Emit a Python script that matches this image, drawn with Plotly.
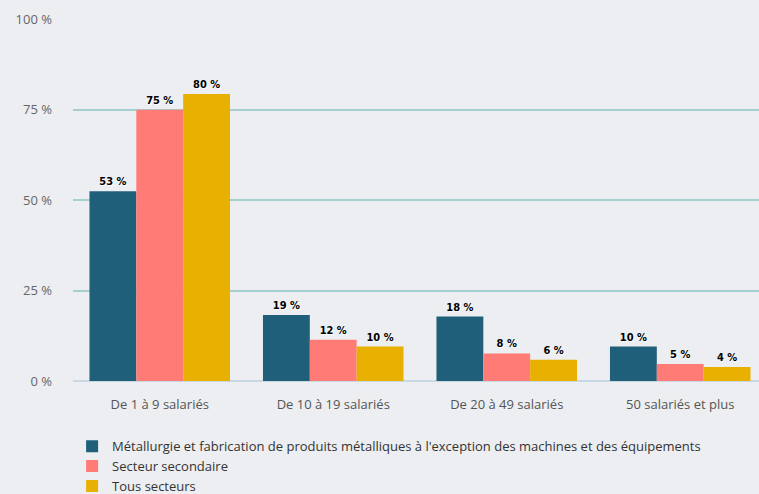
import plotly.graph_objects as go

categories = ["De 1 à 9 salariés", "De 10 à 19 salariés", "De 20 à 49 salariés", "50 salariés et plus"]
series_names = [
    "Métallurgie et fabrication de produits métalliques à l'exception des machines et des équipements",
    "Secteur secondaire",
    "Tous secteurs",
]
metallurgie = [52.4, 18.2, 17.8, 9.5]
secondaire = [74.9, 11.4, 7.6, 4.7]
tous = [79.3, 9.5, 5.9, 3.9]
labels_metallurgie = ["53 %", "19 %", "18 %", "10 %"]
labels_secondaire = ["75 %", "12 %", "8 %", "5 %"]
labels_tous = ["80 %", "10 %", "6 %", "4 %"]
colors = ["#1f5f7a", "#ff7b76", "#e8b000"]
tick_vals = [0, 25, 50, 75, 100]
tick_text = ["0 %", "25 %", "50 %", "75 %", "100 %"]

fig = go.Figure()
for name, vals, labs, col in zip(series_names, [metallurgie, secondaire, tous],
                                 [labels_metallurgie, labels_secondaire, labels_tous], colors):
    fig.add_trace(go.Bar(
        x=categories, y=vals, name=name, marker=dict(color=col, line=dict(width=0)),
        text=labs, textposition="outside", texttemplate="%{text}",
        textfont=dict(family="DejaVu Sans Condensed", size=11, color="#000000", weight="bold",
                      shadow="1px 1px 1px #ffffff"),
        cliponaxis=False,
    ))

fig.update_layout(
    width=759, height=494,
    barmode="group", bargap=0.19, bargroupgap=0,
    paper_bgcolor="#eceef1", plot_bgcolor="#eceef1",
    margin=dict(l=73, r=0, t=19, b=113, autoexpand=False),
    font=dict(family="Open Sans", color="#555555"),
    xaxis=dict(range=[-0.5, 3.454], showgrid=False, ticks="", showline=False, automargin=False,
               tickfont=dict(size=13, color="#555555"), tickangle=0, ticklabelstandoff=14),
    yaxis=dict(range=[0, 100], tickvals=tick_vals, ticktext=tick_text, showgrid=True, automargin=False,
               gridcolor="#a6cfcf", gridwidth=2, zeroline=True, zerolinecolor="#c9d9e4", zerolinewidth=2,
               tickfont=dict(size=13, color="#666666"), ticklabelstandoff=20),
    showlegend=True,
    legend=dict(orientation="v", xref="container", yref="container", x=0.095, y=0.127,
                xanchor="left", yanchor="top", font=dict(size=13, color="#333333"),
                tracegroupgap=0, itemwidth=30, bgcolor="rgba(0,0,0,0)"),
)
fig.write_html("out.html", config={"displayModeBar": False},
               post_script="document.body.style.margin='0';document.body.style.overflow='hidden';")
